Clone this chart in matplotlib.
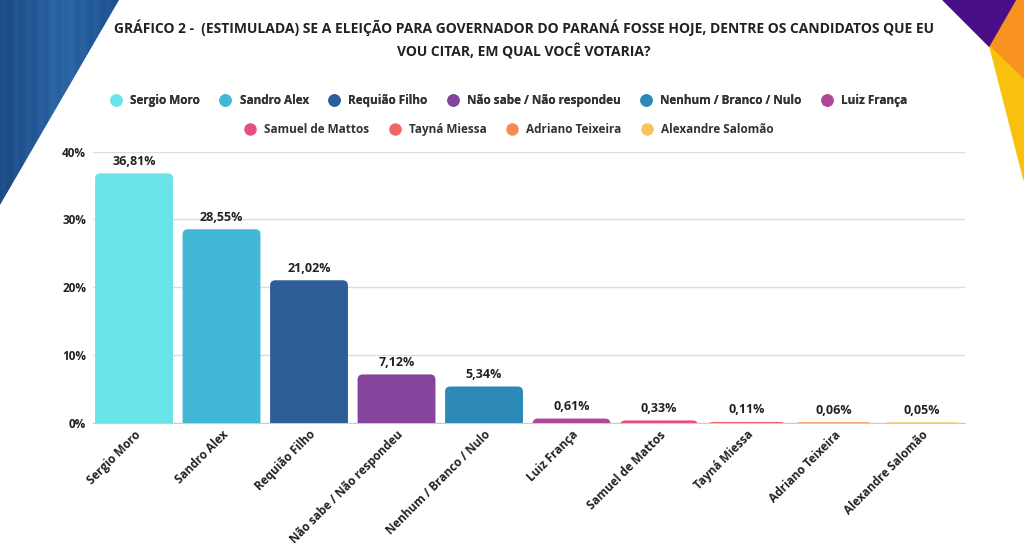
import numpy as np
import matplotlib
matplotlib.use("Agg")
import matplotlib.pyplot as plt
from matplotlib.patches import Polygon, FancyBboxPatch
from matplotlib.lines import Line2D

plt.rcParams['font.family'] = ['Open Sans', 'DejaVu Sans']
plt.rcParams['font.weight'] = 'bold'

# data
candidates = ['Sergio Moro', 'Sandro Alex', 'Requião Filho', 'Não sabe / Não respondeu',
              'Nenhum / Branco / Nulo', 'Luiz França', 'Samuel de Mattos', 'Tayná Miessa',
              'Adriano Teixeira', 'Alexandre Salomão']
votes = [36.81, 28.55, 21.02, 7.12, 5.34, 0.61, 0.33, 0.11, 0.06, 0.05]
colors = ['#6AE4E8', '#43B7D6', '#2E5E98', '#86459D', '#2D89B8', '#B1479A',
          '#E84F80', '#F36465', '#F68A4F', '#F8C35C']
yticks = [0, 10, 20, 30, 40]

title = ('GRÁFICO 2 -  (ESTIMULADA) SE A ELEIÇÃO PARA GOVERNADOR DO PARANÁ FOSSE HOJE, '
         'DENTRE OS CANDIDATOS QUE EU\nVOU CITAR, EM QUAL VOCÊ VOTARIA?')

W, H = 1024, 551
fig = plt.figure(figsize=(W / 100, H / 100), dpi=100)

# decorative background
bg = fig.add_axes([0, 0, 1, 1], zorder=0)
bg.set_xlim(0, W)
bg.set_ylim(H, 0)
bg.axis('off')
tri = Polygon([(0, 0), (119, 0), (0, 205)], closed=True, facecolor='none', edgecolor='none')
bg.add_patch(tri)
grad = np.linspace(0, 1, 200)[None, :] * np.ones((50, 1))
stripes = 0.08 * np.sin(np.linspace(0, 60, 200))[None, :]
img = bg.imshow(grad + stripes, cmap=matplotlib.colors.LinearSegmentedColormap.from_list(
    'b', ['#1C4B86', '#2C66A6', '#1E4F8E']), extent=(0, 119, 205, 0), aspect='auto')
img.set_clip_path(tri)
bg.add_patch(Polygon([(943, 0), (1017, 0), (990, 47)], closed=True, color='#4A0E86'))
bg.add_patch(Polygon([(1017, 0), (1024, 0), (1024, 80), (990, 47)], closed=True, color='#F7931E'))
bg.add_patch(Polygon([(990, 47), (1024, 80), (1024, 180)], closed=True, color='#F9C10E'))

fig.text(0.512, 0.928, title, ha='center', va='center', fontsize=10, fontweight='bold',
         color='#222222', linespacing=1.55)

ax = fig.add_axes([0.0908, 0.2329, 0.8516, 0.4918], zorder=1)
ax.patch.set_alpha(0)
x = np.arange(len(candidates))
bars = ax.bar(x, votes, width=0.89, color=colors)
ax.set_xlim(-0.469, 9.497)
ax.set_ylim(0, 40)

# swap bars for rounded-top versions
for b, c in zip(bars, colors):
    b.set_visible(False)
    fb = FancyBboxPatch((b.get_x(), -1.0), b.get_width(), b.get_height() + 1.0,
                        boxstyle='round,pad=0,rounding_size=0.06', mutation_aspect=13,
                        facecolor=c, edgecolor='none', zorder=3)
    ax.add_patch(fb)

for xi, v in zip(x, votes):
    ax.annotate(f'{v:.2f}%'.replace('.', ','), (xi, v), xytext=(0, 4),
                textcoords='offset points', ha='center', va='bottom',
                fontsize=9, fontweight='bold', color='#222222')

ax.set_yticks(yticks)
ax.set_yticklabels([f'{t}%' for t in yticks], fontsize=8.5, fontweight='bold', color='#222222')
ax.set_xticks(x)
ax.set_xticklabels(candidates, rotation=45, ha='right', rotation_mode='anchor',
                   fontsize=8.5, fontweight='bold', color='#222222')
ax.tick_params(axis='both', length=0)
ax.tick_params(axis='y', pad=5)
ax.tick_params(axis='x', pad=4)
ax.grid(axis='y', color='#DDDDDD', linewidth=1)
ax.set_axisbelow(True)
for s in ['top', 'right', 'left']:
    ax.spines[s].set_visible(False)
ax.spines['bottom'].set_color('#CCCCCC')

handles = [Line2D([], [], marker='o', linestyle='none', markersize=9,
                  markerfacecolor=c, markeredgecolor='none') for c in colors]
leg_kw = dict(frameon=False, handletextpad=0.2, columnspacing=1.15,
              prop={'size': 8.5, 'weight': 'bold'}, labelcolor='#333333')
leg1 = fig.legend(handles[:6], candidates[:6], ncol=6, loc='center',
                  bbox_to_anchor=(0.494, 0.818), **leg_kw)
fig.add_artist(leg1)
fig.legend(handles[6:], candidates[6:], ncol=4, loc='center',
           bbox_to_anchor=(0.494, 0.765), **leg_kw)

fig.savefig('out.png', dpi=100)
